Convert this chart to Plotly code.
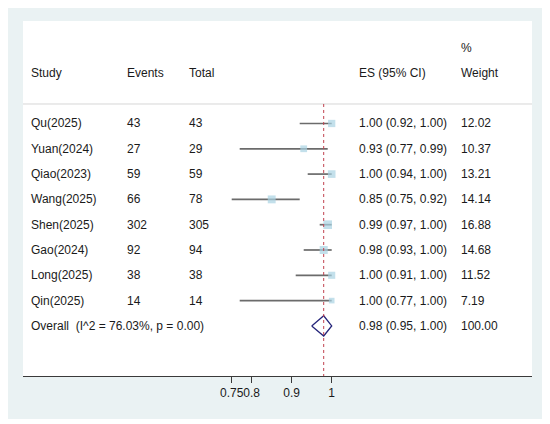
import plotly.graph_objects as go

# ── data ─────────────────────────────────────────
studies = ['Qu(2025)', 'Yuan(2024)', 'Qiao(2023)', 'Wang(2025)',
           'Shen(2025)', 'Gao(2024)', 'Long(2025)', 'Qin(2025)']
events = [43, 27, 59, 66, 302, 92, 38, 14]
totals = [43, 29, 59, 78, 305, 94, 38, 14]
es = [1.00, 0.93, 1.00, 0.85, 0.99, 0.98, 1.00, 1.00]
ci_low = [0.92, 0.77, 0.94, 0.75, 0.97, 0.93, 0.91, 0.77]
ci_high = [1.00, 0.99, 1.00, 0.92, 1.00, 1.00, 1.00, 1.00]
weights = [12.02, 10.37, 13.21, 14.14, 16.88, 14.68, 11.52, 7.19]

overall_label = 'Overall  (I^2 = 76.03%, p = 0.00)'
overall_es, overall_low, overall_high = 0.98, 0.95, 1.00
overall_weight = 100.00

tick_vals = [0.75, 0.8, 0.9, 1]
tick_text = ['0.75', '0.8', '0.9', '1']

# ── layout helpers (page pixels -> paper) ────────
# the html page has an 8px body margin, so the figure is shifted by OFF
OFF = 8
W, H = 550 - OFF, 424 - OFF
PL, PR, PT, PB = 23, 532, 21, 376          # plot region on the page
L, R, T, B = PL - OFF, W - (PR - OFF), PT - OFF, H - (PB - OFF)
pw, ph = W - L - R, H - T - B


def px(x):
    return (x - PL) / pw


def py(y):
    return (PB - y) / ph


FONT = dict(family='Liberation Sans, Arial, sans-serif', size=12, color='#1a1a1a')
rows = list(range(len(studies)))
overall_row = len(studies)

fig = go.Figure()

# CI lines
xs, ys = [], []
for i in rows:
    xs += [ci_low[i], ci_high[i], None]
    ys += [i, i, None]
fig.add_trace(go.Scatter(x=xs, y=ys, mode='lines',
                         line=dict(color='#6b6b6b', width=1.7),
                         hoverinfo='skip', showlegend=False))

# weighted boxes (area ~ weight)
fig.add_trace(go.Scatter(
    x=es, y=rows, mode='markers',
    marker=dict(symbol='square', color='#a9d3e3',
                size=[2.1 * w ** 0.5 for w in weights], line=dict(width=0)),
    showlegend=False))

# overall diamond
h = 0.4
fig.add_trace(go.Scatter(
    x=[overall_low, overall_es, overall_high, overall_es, overall_low],
    y=[overall_row, overall_row - h, overall_row, overall_row + h, overall_row],
    mode='lines', line=dict(color='#25257a', width=1.3),
    showlegend=False))

# ── text columns ─────────────────────────────────
col_x = {'study': px(29), 'events': px(125), 'total': px(187),
         'es': px(357), 'weight': px(459)}


def txt(col, row, s):
    fig.add_annotation(x=col_x[col], xref='paper', y=row, yref='y', text=s,
                       showarrow=False, xanchor='left', yanchor='middle',
                       font=FONT)


hdr = -2.0
txt('study', hdr, 'Study')
txt('events', hdr, 'Events')
txt('total', hdr, 'Total')
txt('es', hdr, 'ES (95% CI)')
txt('weight', hdr, 'Weight')
txt('weight', hdr - 1.0, '%')

for i in rows:
    txt('study', i, studies[i])
    txt('events', i, str(events[i]))
    txt('total', i, str(totals[i]))
    txt('es', i, f'{es[i]:.2f} ({ci_low[i]:.2f}, {ci_high[i]:.2f})')
    txt('weight', i, f'{weights[i]:.2f}')

txt('study', overall_row, overall_label)
txt('es', overall_row,
    f'{overall_es:.2f} ({overall_low:.2f}, {overall_high:.2f})')
txt('weight', overall_row, f'{overall_weight:.2f}')

# ── shapes: graph region, plot region, separator, overall line ──
sep = -0.77
y_bottom, y_top = 9.98, -4.05
fig.add_shape(type='rect', xref='paper', yref='paper',
              x0=px(OFF), x1=px(546), y0=py(419), y1=py(OFF),
              fillcolor='#eaf2f3', line=dict(width=0), layer='below')
fig.add_shape(type='rect', xref='paper', yref='paper',
              x0=0, x1=1, y0=0, y1=1,
              fillcolor='white', line=dict(width=0), layer='below')
fig.add_shape(type='line', xref='paper', yref='y', x0=0, x1=1, y0=sep, y1=sep,
              line=dict(color='#d6d6d6', width=1))
fig.add_shape(type='line', xref='x', yref='y',
              x0=overall_es, x1=overall_es, y0=sep, y1=y_bottom,
              line=dict(color='#c0404e', width=1, dash='3px,3px'))

fig.update_xaxes(range=[1 + (PL - 331.7) / 400, 1 + (PR - 331.7) / 400],
                 tickvals=tick_vals, ticktext=tick_text, tickangle=0,
                 showgrid=False, zeroline=False, showline=True,
                 linecolor='#3a3a3a', linewidth=1, ticks='outside',
                 ticklen=6, tickcolor='#3a3a3a', tickfont=FONT)
fig.update_yaxes(range=[y_bottom, y_top], visible=False,
                 showgrid=False, zeroline=False)

fig.update_layout(width=W, height=H, margin=dict(l=L, r=R, t=T, b=B),
                  paper_bgcolor='white', plot_bgcolor='white',
                  showlegend=False, font=FONT)

fig.write_html('out.html')
